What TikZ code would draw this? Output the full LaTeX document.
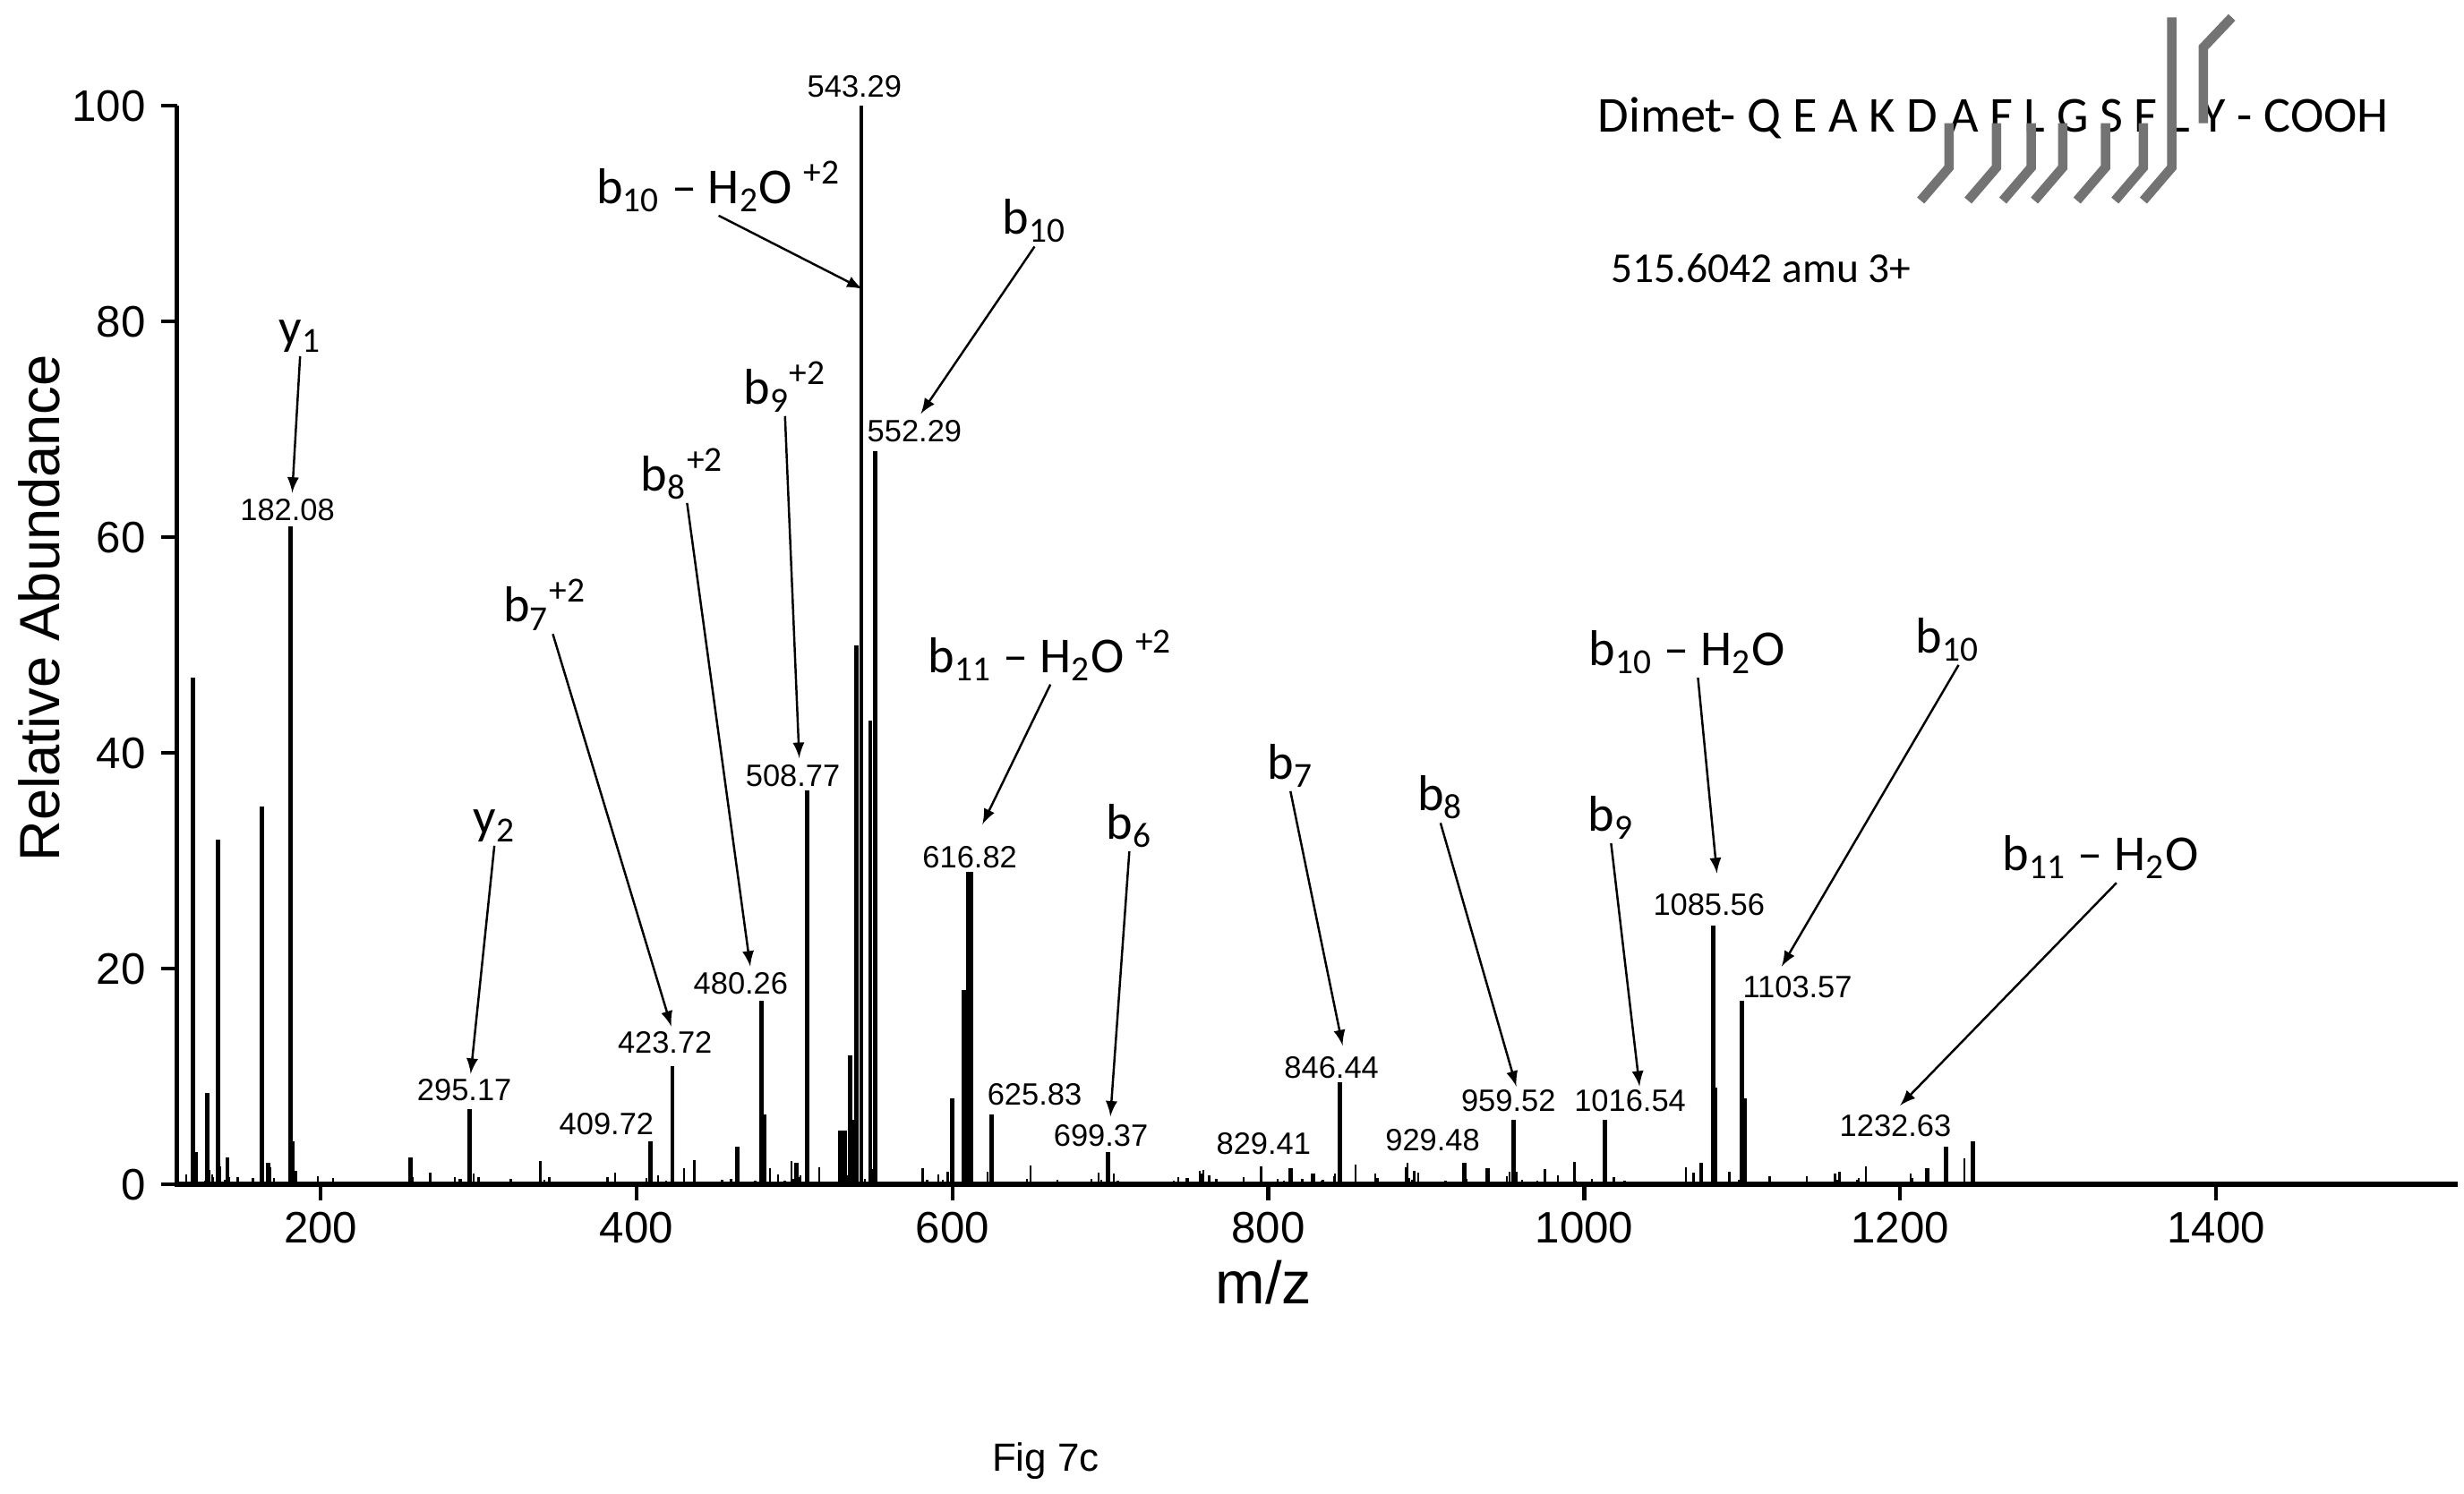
\documentclass[tikz,border=0pt]{standalone}
\usepackage{fontspec}
\setmainfont{Liberation Sans}
\newfontfamily\calib{Carlito}
\usetikzlibrary{arrows,positioning,calc}

\newcommand{\pk}[2]{\draw[peak] (#1+2,750) -- ++(0,-6.83*#2);}

\begin{document}
\begin{tikzpicture}[x=0.01764cm, y=-0.01764cm]
        % Define styles
        \tikzstyle{peak} = [line width=1.4pt]
        \tikzstyle{noise} = [line width=0.7pt]
        \tikzstyle{val} = [font=\fontsize{9.8}{10}\selectfont, inner sep=0pt]
        \tikzstyle{ion} = [font=\calib\fontsize{16}{17}\selectfont, inner sep=1pt]
        \tikzstyle{arrow} = [line width=0.7pt,->,>=latex]
        \tikzstyle{tick} = [font=\fontsize{14}{15}\selectfont]
        \tikzstyle{frag} = [line width=3pt, black!55]

        \useasboundingbox (0,0) rectangle (1560,946);

        % Axes
        \draw[line width=1.6pt] (112,67) -- (112,750) -- (1556,750);
        \foreach \v in {0,20,...,100}
            \draw[line width=1.2pt] (112,750-6.83*\v) -- (102,750-6.83*\v)
                node[tick, left=1pt] {\v};
        \foreach \m in {200,400,...,1400}
            \draw[line width=1.2pt] (\m+3,750) -- (\m+3,760)
                node[tick, below=0pt] {\m};
        \node[rotate=90, font=\fontsize{18}{19}\selectfont] (ylab) at (25,385) {Relative Abundance};
        \node[font=\fontsize{19}{20}\selectfont] (xlab) at (800,812) {m/z};
        \node[font=\fontsize{12.5}{13}\selectfont] (fig) at (662,925) {Fig 7c};

        % Noise
        \pgfmathsetseed{11}
        \foreach \i in {1,...,170} {
            \pgfmathsetmacro{\mz}{115+rnd*1145}
            \pgfmathsetmacro{\h}{0.2+rnd*rnd*2.4}
            \draw[noise] (\mz+2,750) -- ++(0,-6.83*\h);
        }

        % Peaks
        \pk{120}{47} \pk{122}{3} \pk{129}{8.5} \pk{136}{32} \pk{142}{2.5}
        \pk{164}{35} \pk{168}{2} \pk{182.08}{61} \pk{183}{4} \pk{258}{2.5}
        \pk{295.17}{7} \pk{409.72}{4} \pk{423.72}{11} \pk{465}{3.5}
        \pk{480.26}{17} \pk{482}{6.5} \pk{502}{2} \pk{508.77}{36.5}
        \pk{530}{5} \pk{533}{5} \pk{536}{12} \pk{538}{6} \pk{540}{50}
        \pk{543.29}{100} \pk{549}{43} \pk{552.29}{68}
        \pk{601}{8} \pk{608}{18} \pk{611}{29} \pk{612.8}{29} \pk{625.83}{6.5}
        \pk{699.37}{3} \pk{829.41}{1} \pk{815}{1.5} \pk{846.44}{9.5}
        \pk{925}{2} \pk{940}{1.5} \pk{956.5}{6} \pk{1014}{6}
        \pk{1075}{2} \pk{1082.5}{24} \pk{1084}{9} \pk{1101}{17} \pk{1102.5}{8}
        \pk{1218}{1.5} \pk{1230}{3.5} \pk{1247}{4}

        % Peak values
        \node[val] (v543) at (541,55) {543.29};
        \node[val] (v552) at (579,273) {552.29};
        \node[val] (v182) at (182,323) {182.08};
        \node[val] (v508) at (502,491) {508.77};
        \node[val] (v616) at (614,543) {616.82};
        \node[val] (v480) at (469,623) {480.26};
        \node[val] (v1085) at (1082,573) {1085.56};
        \node[val] (v1103) at (1138,625) {1103.57};
        \node[val] (v846) at (843,676) {846.44};
        \node[val] (v423) at (421,660) {423.72};
        \node[val] (v295) at (294,690) {295.17};
        \node[val] (v625) at (655,693) {625.83};
        \node[val] (v699) at (697,719) {699.37};
        \node[val] (v959) at (955,697) {959.52};
        \node[val] (v1016) at (1032,697) {1016.54};
        \node[val] (v409) at (384,712) {409.72};
        \node[val] (v829) at (800,724) {829.41};
        \node[val] (v929) at (907,722) {929.48};
        \node[val] (v1232) at (1200,713) {1232.63};

        % Ion labels
        \node[ion] (y1) at (190,213) {y\textsubscript{1}};
        \node[ion] (y2) at (313,523) {y\textsubscript{2}};
        \node[ion] (b7d) at (345,383) {b\textsubscript{7}\textsuperscript{+2}};
        \node[ion] (b8d) at (432,300) {b\textsubscript{8}\textsuperscript{+2}};
        \node[ion] (b9d) at (497,245) {b\textsubscript{9}\textsuperscript{+2}};
        \node[ion] (b10wd) at (455,118) {b\textsubscript{10} – H\textsubscript{2}O \textsuperscript{+2}};
        \node[ion] (b10d) at (655,140) {b\textsubscript{10}};
        \node[ion] (b11wd) at (665,415) {b\textsubscript{11} – H\textsubscript{2}O \textsuperscript{+2}};
        \node[ion] (b6) at (715,523) {b\textsubscript{6}};
        \node[ion] (b7) at (817,485) {b\textsubscript{7}};
        \node[ion] (b8) at (912,505) {b\textsubscript{8}};
        \node[ion] (b9) at (1020,518) {b\textsubscript{9}};
        \node[ion] (b10w) at (1068,413) {b\textsubscript{10} – H\textsubscript{2}O};
        \node[ion] (b10) at (1233,405) {b\textsubscript{10}};
        \node[ion] (b11w) at (1330,543) {b\textsubscript{11} – H\textsubscript{2}O};

        % Arrow tips
        \coordinate (t1) at (185,312);
        \coordinate (t2) at (298,680);
        \coordinate (t3) at (425,650);
        \coordinate (t4) at (475,612);
        \coordinate (t5) at (506,480);
        \coordinate (t6) at (546,183);
        \coordinate (t7) at (583,262);
        \coordinate (t8) at (622,522);
        \coordinate (t9) at (703,707);
        \coordinate (t10) at (850,662);
        \coordinate (t11) at (960,688);
        \coordinate (t12) at (1038,688);
        \coordinate (t13) at (1087,553);
        \coordinate (t14) at (1128,612);
        \coordinate (t15) at (1203,700);

        % Arrows
        \draw[arrow] (y1.south) -- (t1);
        \draw[arrow] (y2.south) -- (t2);
        \draw[arrow] ($(b7d.south)+(5,0)$) -- (t3);
        \draw[arrow] ($(b8d.south)+(3,0)$) -- (t4);
        \draw[arrow] (b9d.south) -- (t5);
        \draw[arrow] (b10wd.south) -- (t6);
        \draw[arrow] (b10d.south) -- (t7);
        \draw[arrow] (b11wd.south) -- (t8);
        \draw[arrow] (b6.south) -- (t9);
        \draw[arrow] (b7.south) -- (t10);
        \draw[arrow] (b8.south) -- (t11);
        \draw[arrow] (b9.south) -- (t12);
        \draw[arrow] ($(b10w.south)+(7,0)$) -- (t13);
        \draw[arrow] ($(b10.south)+(7,0)$) -- (t14);
        \draw[arrow] ($(b11w.south)+(10,0)$) -- (t15);

        % Sequence
        \node[font=\calib\fontsize{16}{17}\selectfont] (seq) at (1262,75)
            {Dimet- Q E A K D A F L G S F L Y - COOH};
        \node[font=\calib\fontsize{13.5}{14}\selectfont] (mass) at (1115,170)
            {515.6042 amu 3+};
        \foreach \x in {1234,1264,1286,1306,1333,1357}
            \draw[frag] (\x,78) -- (\x,106) -- (\x-18,127);
        \draw[frag] (1357+18,11) -- (1375,30) -- (1375,106) -- (1357,127);
        \draw[frag] (1413,11) -- (1395,30) -- (1395,78);
\end{tikzpicture}
\end{document}
